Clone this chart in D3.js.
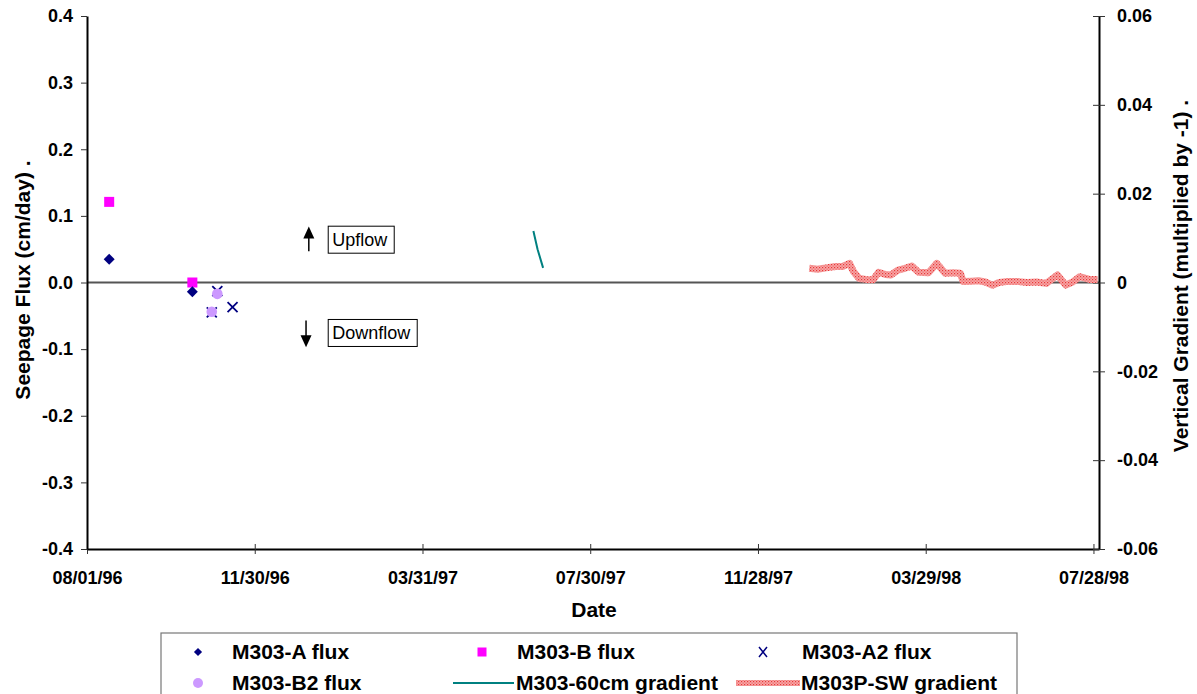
<!DOCTYPE html>
<html><head><meta charset="utf-8">
<script src="https://cdn.jsdelivr.net/npm/d3@7"></script>
<style>
body{margin:0;background:#fff;}
text{font-family:"Liberation Sans",Arial,sans-serif;}
</style></head>
<body><svg id="c" width="1197" height="694"></svg>
<script>
// ---- data ----
const xTickLabels = ["08/01/96","11/30/96","03/31/97","07/30/97","11/28/97","03/29/98","07/28/98"];
const yLeftTicks = [-0.4,-0.3,-0.2,-0.1,0.0,0.1,0.2,0.3,0.4];
const yRightTicks = [-0.06,-0.04,-0.02,0,0.02,0.04,0.06];

const m303A_dates = ["08/17/96","10/16/96"];
const m303A_flux  = [0.035,-0.014];
const m303B_dates = ["08/17/96","10/16/96"];
const m303B_flux  = [0.121,0.0];
const m303A2_dates = ["11/03/96","10/30/96","11/14/96"];
const m303A2_flux  = [-0.013,-0.045,-0.037];
const m303B2_dates = ["11/03/96","10/30/96"];
const m303B2_flux  = [-0.017,-0.044];

const g60_dates = ["06/19/97","06/22/97","06/26/97"];
const g60_vals  = [0.0116,0.0075,0.0033];

const sw_dates = ["01/04/98","01/10/98","01/16/98","01/23/98","01/28/98","02/02/98","02/05/98","02/09/98","02/14/98","02/19/98","02/23/98","02/28/98","03/04/98","03/09/98","03/14/98","03/19/98","03/24/98","03/31/98","04/06/98","04/12/98","04/18/98","04/23/98","04/25/98","05/01/98","05/06/98","05/11/98","05/16/98","05/21/98","05/26/98","06/04/98","06/10/98","06/17/98","06/24/98","07/02/98","07/08/98","07/13/98","07/18/98","07/25/98","07/31/98"];
const sw_vals  = [0.0032,0.0030,0.0033,0.0036,0.0036,0.0043,0.0024,0.0009,0.0007,0.0006,0.0023,0.0018,0.0017,0.0028,0.0032,0.0037,0.0023,0.0022,0.0043,0.0021,0.0022,0.0021,0.0002,0.0003,0.0004,0.0001,-0.0006,0.0000,0.0002,0.0002,0.0000,0.0001,-0.0002,0.0017,-0.0006,0.0001,0.0013,0.0007,0.0007];

const legendItems = ["M303-A flux","M303-B flux","M303-A2 flux","M303-B2 flux","M303-60cm gradient","M303P-SW gradient"];

// ---- setup ----
const parse = d3.timeParse("%m/%d/%y");
const svg = d3.select("#c");
const L=87, R=1099, T=16, B=549;
const x0 = parse("08/01/96");
const x = d3.scaleTime().domain([x0, d3.timeDay.offset(x0,730)]).range([L,R]);
const y = d3.scaleLinear().domain([-0.4,0.4]).range([B,T]);
const y2 = d3.scaleLinear().domain([-0.06,0.06]).range([B,T]);
const hy = s => s.replace("\u2212","-");

const defs = svg.append("defs");
const pat = defs.append("pattern").attr("id","hatch").attr("patternUnits","userSpaceOnUse").attr("width",3).attr("height",3);
pat.append("rect").attr("width",3).attr("height",3).attr("fill","#f7a8a8");
pat.append("rect").attr("width",1.2).attr("height",1.2).attr("fill","#e83838");
pat.append("rect").attr("x",1.5).attr("y",1.5).attr("width",1.2).attr("height",1.2).attr("fill","#ee6060");

// zero line
svg.append("line").attr("x1",L).attr("x2",R).attr("y1",y(0)).attr("y2",y(0)).attr("stroke","#555").attr("stroke-width",2);

// axes
const fontAx = "bold 18px 'Liberation Sans', Arial";
const xTicks = xTickLabels.map(parse);
const xAxis = svg.append("g").attr("transform",`translate(0,${B})`)
  .call(d3.axisBottom(x).tickValues(xTicks).tickFormat(d3.timeFormat("%m/%d/%y")).tickSizeInner(5).tickSizeOuter(0).tickPadding(17));
xAxis.selectAll(".tick line").attr("y1",-5).attr("stroke","#333");
xAxis.select(".domain").attr("stroke","#000").attr("stroke-width",2);
xAxis.selectAll("text").style("font",fontAx).attr("fill","#000");

const yAxis = svg.append("g").attr("transform",`translate(${L},0)`)
  .call(d3.axisLeft(y).tickValues(yLeftTicks).tickFormat(d => hy(d3.format(".1f")(d))).tickSizeInner(6).tickSizeOuter(0).tickPadding(8));
yAxis.select(".domain").attr("stroke","#000").attr("stroke-width",2);
yAxis.selectAll(".tick line").attr("stroke","#333");
yAxis.selectAll("text").style("font",fontAx).attr("fill","#000");

const y2Axis = svg.append("g").attr("transform",`translate(${R},0)`)
  .call(d3.axisRight(y2).tickValues(yRightTicks).tickFormat(d => d===0 ? "0" : hy(d3.format(".2f")(d))).tickSizeInner(6).tickSizeOuter(0).tickPadding(12));
y2Axis.selectAll(".tick line").attr("x1",-6).attr("stroke","#333");
y2Axis.select(".domain").attr("stroke","#000").attr("stroke-width",2);
y2Axis.selectAll("text").style("font",fontAx).attr("fill","#000");

// axis titles
const fontT = "bold 21px 'Liberation Sans', Arial";
svg.append("text").attr("transform",`translate(30,280) rotate(-90)`).attr("text-anchor","middle")
  .style("font",fontT).text("Seepage Flux (cm/day) .");
svg.append("text").attr("transform",`translate(1188,276) rotate(-90)`).attr("text-anchor","middle")
  .style("font",fontT).text("Vertical Gradient (multiplied by -1) .");
svg.append("text").attr("x",594).attr("y",617).attr("text-anchor","middle")
  .style("font",fontT).text("Date");

// lines
const lineSW = d3.line().x((d,i)=>x(parse(sw_dates[i]))).y(d=>y2(d));
svg.append("path").datum(sw_vals).attr("d",lineSW).attr("fill","none").attr("stroke","url(#hatch)").attr("stroke-width",7).attr("stroke-linejoin","round");
const line60 = d3.line().x((d,i)=>x(parse(g60_dates[i]))).y(d=>y2(d));
svg.append("path").datum(g60_vals).attr("d",line60).attr("fill","none").attr("stroke","#008080").attr("stroke-width",2);

// markers
function pts(dates, vals){ return vals.map((v,i)=>({x:x(parse(dates[i])), y:y(v)})); }
svg.selectAll(".ptB").data(pts(m303B_dates,m303B_flux)).enter().append("rect")
  .attr("x",d=>d.x-5).attr("y",d=>d.y-5).attr("width",10).attr("height",10).attr("fill","#ff00ff");
svg.selectAll(".ptA").data(pts(m303A_dates,m303A_flux)).enter().append("path")
  .attr("transform",d=>`translate(${d.x},${d.y}) rotate(45)`).attr("d",d3.symbol().type(d3.symbolSquare).size(60)).attr("fill","#000080");
svg.selectAll(".ptA2").data(pts(m303A2_dates,m303A2_flux)).enter().append("path")
  .attr("d",d=>`M${d.x-5},${d.y-5}L${d.x+5},${d.y+5}M${d.x-5},${d.y+5}L${d.x+5},${d.y-5}`).attr("stroke","#000080").attr("stroke-width",1.8);
svg.selectAll(".ptB2").data(pts(m303B2_dates,m303B2_flux)).enter().append("circle")
  .attr("cx",d=>d.x).attr("cy",d=>d.y).attr("r",5.3).attr("fill","#cc99ff");

// annotations
function arrow(xp, yFrom, yTo){
  const dir = yTo<yFrom ? -1 : 1;
  svg.append("line").attr("x1",xp).attr("x2",xp).attr("y1",yFrom).attr("y2",yTo-dir*9).attr("stroke","#000").attr("stroke-width",1.5);
  svg.append("path").attr("d",`M${xp},${yTo}L${xp-5.5},${yTo-dir*12}L${xp+5.5},${yTo-dir*12}Z`).attr("fill","#000");
}
const ax1 = x(parse("01/08/97")), ax2 = x(parse("01/06/97"));
arrow(ax1, y(0.047), y(0.084));
arrow(ax2, y(-0.057), y(-0.097));
function box(label, xl, yc, w){
  svg.append("rect").attr("x",xl).attr("y",yc-13).attr("width",w).attr("height",27).attr("fill","#fff").attr("stroke","#000").attr("stroke-width",1);
  svg.append("text").attr("x",xl+4).attr("y",yc+6.5).style("font","18px 'Liberation Sans', Arial").text(label);
}
box("Upflow", x(parse("01/22/97")), y(0.065), 66);
box("Downflow", x(parse("01/22/97")), y(-0.075), 89);

// legend
const lg = svg.append("g");
lg.append("rect").attr("x",161).attr("y",633).attr("width",856).attr("height",70).attr("fill","#fff").attr("stroke","#777").attr("stroke-width",1.2);
const lf = "bold 21px 'Liberation Sans', Arial";
const r1=652, r2=683;
const items = [
  {t:legendItems[0], tx:232, ty:r1, mk:"diamond", mx:198},
  {t:legendItems[1], tx:517, ty:r1, mk:"square", mx:482},
  {t:legendItems[2], tx:802, ty:r1, mk:"x", mx:763},
  {t:legendItems[3], tx:232, ty:r2, mk:"circle", mx:198},
  {t:legendItems[4], tx:516, ty:r2, mk:"teal", mx:453},
  {t:legendItems[5], tx:801, ty:r2, mk:"red", mx:736}
];
items.forEach(it=>{
  lg.append("text").attr("x",it.tx).attr("y",it.ty+7).style("font",lf).text(it.t);
  if(it.mk==="diamond") lg.append("path").attr("transform",`translate(${it.mx},${it.ty}) rotate(45)`).attr("d",d3.symbol().type(d3.symbolSquare).size(34)).attr("fill","#000080");
  if(it.mk==="square") lg.append("rect").attr("x",it.mx-4.5).attr("y",it.ty-4.5).attr("width",9).attr("height",9).attr("fill","#ff00ff");
  if(it.mk==="x") lg.append("path").attr("d",`M${it.mx-4},${it.ty-5}L${it.mx+4},${it.ty+5}M${it.mx-4},${it.ty+5}L${it.mx+4},${it.ty-5}`).attr("stroke","#000080").attr("stroke-width",1.5);
  if(it.mk==="circle") lg.append("circle").attr("cx",it.mx).attr("cy",it.ty).attr("r",5).attr("fill","#cc99ff");
  if(it.mk==="teal") lg.append("line").attr("x1",it.mx).attr("x2",it.mx+61).attr("y1",it.ty).attr("y2",it.ty).attr("stroke","#008080").attr("stroke-width",2);
  if(it.mk==="red") lg.append("line").attr("x1",it.mx).attr("x2",it.mx+64).attr("y1",it.ty).attr("y2",it.ty).attr("stroke","url(#hatch)").attr("stroke-width",6);
});
</script></body></html>
